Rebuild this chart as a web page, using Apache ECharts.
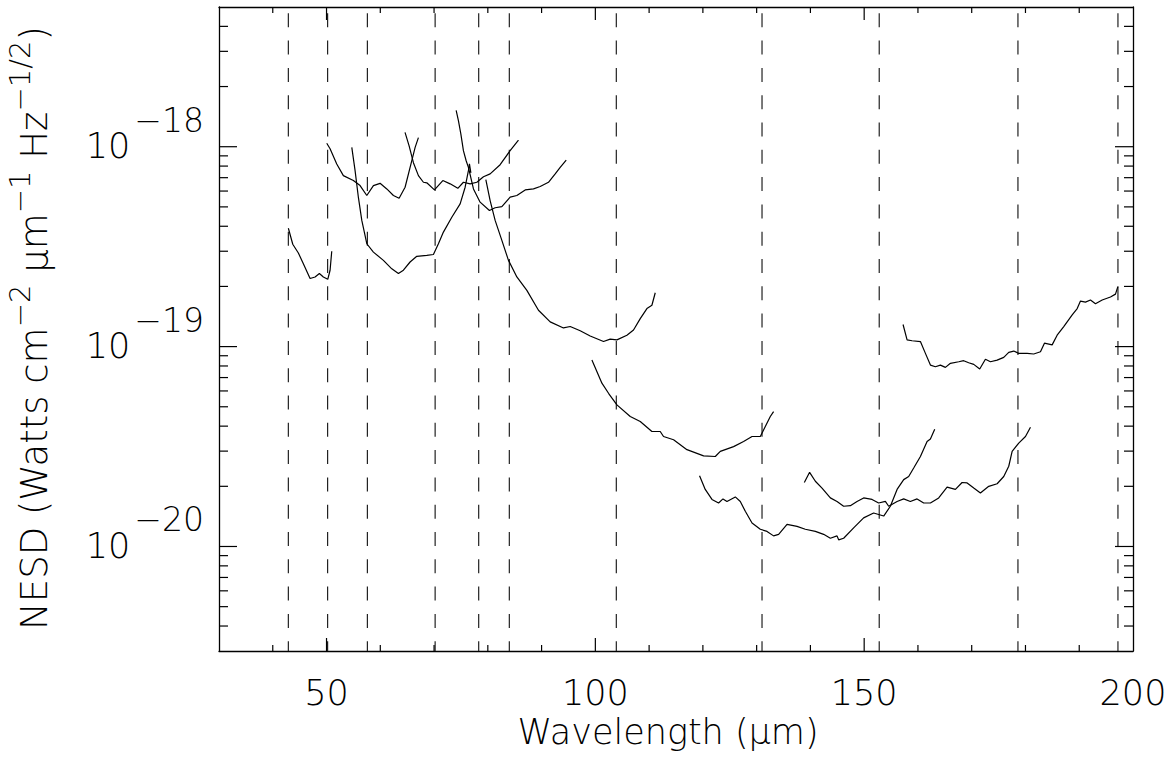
<!DOCTYPE html>
<html>
<head>
<meta charset="utf-8">
<script src="https://cdn.jsdelivr.net/npm/echarts@6/dist/echarts.min.js"></script>
<style>
html,body{margin:0;padding:0;background:#fff;}
#chart{width:1168px;height:764px;}
</style>
</head>
<body>
<div id="chart"></div>
<script>
// ---- axis ranges & ticks ----
const X_MIN = 30, X_MAX = 200;
const Y_MIN = 3e-21, Y_MAX = 5e-18;
const xLabelValues = [50, 100, 150, 200];
const xMajorTicks = [50, 100, 150];
const xMinorTicks = [40, 60, 70, 80, 90, 110, 120, 130, 140, 160, 170, 180, 190];
const yMajorTicks = [1e-20, 1e-19, 1e-18];
const yMinorTicks = [4e-21, 5e-21, 6e-21, 7e-21, 8e-21, 9e-21,
  2e-20, 3e-20, 4e-20, 5e-20, 6e-20, 7e-20, 8e-20, 9e-20,
  2e-19, 3e-19, 4e-19, 5e-19, 6e-19, 7e-19, 8e-19, 9e-19,
  2e-18, 3e-18, 4e-18];

// ---- dashed reference wavelengths ----
const dashedWavelengths = [42.9, 50.2, 57.6, 70.2, 78.3, 84.0, 103.9, 131.0, 152.8, 178.6, 197.2];

// ---- NESD curves [wavelength, NESD] ----
const band1 = [[42.90,3.91e-19],[43.72,3.25e-19],[44.76,2.94e-19],[45.69,2.60e-19],[46.94,2.19e-19],[47.87,2.23e-19],[48.67,2.32e-19],[49.41,2.23e-19],[50.23,2.17e-19],[50.66,2.41e-19],[50.97,3.00e-19]];
const band2 = [[50.04,1.04e-18],[50.66,9.77e-19],[51.90,8.20e-19],[53.13,7.17e-19],[54.99,6.77e-19],[56.24,6.39e-19],[57.49,5.70e-19],[58.72,6.39e-19],[59.96,6.56e-19],[61.21,6.15e-19],[62.44,5.70e-19],[63.50,5.52e-19],[64.61,6.27e-19],[65.86,8.51e-19],[66.48,9.92e-19],[67.09,1.11e-18]];
const band3 = [[64.60,1.18e-18],[65.36,1.01e-18],[66.16,8.32e-19],[67.09,7.17e-19],[68.02,6.64e-19],[68.65,6.60e-19],[70.07,6.08e-19],[71.63,6.77e-19],[72.99,6.52e-19],[74.42,6.19e-19],[75.46,6.64e-19],[76.71,6.52e-19],[77.96,6.64e-19],[79.19,7.08e-19],[80.43,7.31e-19],[82.29,8.13e-19],[84.15,9.55e-19],[85.70,1.08e-18]];
const band4 = [[54.70,9.92e-19],[55.31,7.59e-19],[55.92,5.59e-19],[56.56,4.28e-19],[57.49,3.27e-19],[58.72,2.97e-19],[60.58,2.70e-19],[62.14,2.45e-19],[63.37,2.32e-19],[64.30,2.41e-19],[65.54,2.65e-19],[66.79,2.83e-19],[68.65,2.86e-19],[69.88,2.89e-19],[70.81,3.27e-19],[71.74,3.74e-19],[73.30,4.44e-19],[74.85,5.18e-19],[75.78,6.27e-19],[76.39,7.59e-19],[76.58,8.20e-19],[76.85,7.40e-19]];
const band5 = [[74.11,1.52e-18],[74.53,1.35e-18],[74.98,1.16e-18],[75.46,9.55e-19],[75.97,8.51e-19],[76.39,7.88e-19],[77.33,6.15e-19],[78.57,5.28e-19],[80.30,4.80e-19],[81.36,4.95e-19],[82.61,5.02e-19],[84.15,5.59e-19],[85.40,5.70e-19],[86.95,6.08e-19],[88.49,6.15e-19],[89.74,6.32e-19],[91.28,6.64e-19],[92.53,7.31e-19],[93.46,7.88e-19],[94.58,8.58e-19]];
const band6 = [[79.63,6.85e-19],[80.43,5.38e-19],[81.36,4.28e-19],[82.61,3.40e-19],[83.84,2.70e-19],[85.40,2.23e-19],[87.26,1.91e-19],[89.42,1.52e-19],[91.60,1.33e-19],[94.07,1.24e-19],[95.32,1.26e-19],[97.18,1.20e-19],[99.04,1.13e-19],[101.52,1.06e-19],[102.76,1.09e-19],[104.01,1.08e-19],[105.87,1.14e-19],[107.10,1.21e-19],[108.35,1.38e-19],[109.59,1.55e-19],[110.52,1.61e-19],[111.14,1.86e-19]];
const band7 = [[99.36,8.56e-20],[101.22,6.56e-20],[102.45,5.84e-20],[104.01,5.11e-20],[106.49,4.47e-20],[108.35,4.22e-20],[110.52,3.76e-20],[112.07,3.76e-20],[112.68,3.55e-20],[114.55,3.42e-20],[117.04,3.05e-20],[120.13,2.84e-20],[122.31,2.82e-20],[123.24,2.99e-20],[125.71,3.16e-20],[127.57,3.35e-20],[129.14,3.55e-20],[130.68,3.55e-20],[131.61,3.98e-20],[132.54,4.47e-20],[133.15,4.73e-20]];
const band8 = [[119.38,2.26e-20],[120.44,1.93e-20],[121.69,1.72e-20],[122.92,1.65e-20],[123.74,1.73e-20],[124.48,1.68e-20],[126.03,1.77e-20],[126.96,1.68e-20],[127.89,1.50e-20],[129.14,1.31e-20],[130.68,1.22e-20],[131.93,1.19e-20],[133.15,1.13e-20],[134.09,1.15e-20],[135.65,1.29e-20],[137.51,1.26e-20],[139.05,1.22e-20],[140.92,1.19e-20],[142.46,1.15e-20],[143.71,1.10e-20],[144.95,1.13e-20],[145.25,1.08e-20],[146.18,1.10e-20],[148.04,1.24e-20],[149.90,1.39e-20],[151.76,1.47e-20],[153.63,1.42e-20],[154.87,1.59e-20],[156.12,1.93e-20],[157.35,2.16e-20],[158.28,2.24e-20],[159.21,2.47e-20],[160.46,2.82e-20],[161.70,3.35e-20],[162.32,3.45e-20],[163.12,3.86e-20]];
const band9 = [[138.87,2.09e-20],[139.85,2.35e-20],[140.92,2.12e-20],[142.16,1.96e-20],[143.71,1.75e-20],[144.95,1.68e-20],[146.18,1.59e-20],[147.43,1.60e-20],[148.67,1.68e-20],[149.90,1.75e-20],[151.46,1.72e-20],[152.69,1.65e-20],[153.94,1.68e-20],[154.56,1.59e-20],[156.12,1.68e-20],[157.35,1.73e-20],[158.59,1.68e-20],[159.84,1.73e-20],[161.07,1.65e-20],[162.32,1.65e-20],[163.86,1.75e-20],[165.42,1.98e-20],[166.97,1.93e-20],[168.21,2.09e-20],[169.15,2.08e-20],[170.38,1.96e-20],[171.62,1.85e-20],[173.17,2.00e-20],[174.73,2.06e-20],[175.96,2.24e-20],[176.89,2.52e-20],[177.52,2.99e-20],[178.75,3.29e-20],[180.00,3.55e-20],[180.93,3.95e-20]];
const band10 = [[157.23,1.29e-19],[157.98,1.08e-19],[158.91,1.07e-19],[160.46,1.06e-19],[161.39,9.25e-20],[162.32,8.08e-20],[163.25,7.93e-20],[164.18,8.08e-20],[165.11,7.87e-20],[166.04,8.25e-20],[167.59,8.40e-20],[168.51,8.50e-20],[169.44,8.30e-20],[170.38,8.15e-20],[171.49,7.72e-20],[172.55,8.64e-20],[173.48,8.40e-20],[174.73,8.56e-20],[175.96,8.83e-20],[176.89,9.36e-20],[177.82,9.50e-20],[178.75,9.25e-20],[180.31,9.25e-20],[181.54,9.18e-20],[182.79,9.42e-20],[183.53,1.04e-19],[184.96,1.02e-19],[185.89,1.14e-19],[187.12,1.26e-19],[188.69,1.44e-19],[189.62,1.55e-19],[190.23,1.69e-19],[191.16,1.67e-19],[192.09,1.71e-19],[193.02,1.64e-19],[194.27,1.71e-19],[195.81,1.77e-19],[196.74,1.83e-19],[197.17,1.99e-19]];
const bands = [band1, band2, band3, band4, band5, band6, band7, band8, band9, band10];

// ---- texts ----
const xTitle = 'Wavelength (\u03bcm)';
const yTitle = 'NESD (Watts cm{s|\u22122} \u03bcm{s|\u22121} Hz{s|\u22121/2})';

const FONT = 'DejaVu Sans';
const chart = echarts.init(document.getElementById('chart'), null, {renderer: 'svg', width: 1168, height: 764});

function tickSeries(data, len, vertical) {
  return {
    type: 'custom', silent: true, clip: false, z: 5,
    data: data.map(v => vertical ? [v, Y_MIN] : [X_MIN, v]),
    renderItem: function (params, api) {
      const style = {stroke: '#000', lineWidth: 1.2};
      if (vertical) {
        const v = api.value(0);
        const b = api.coord([v, Y_MIN]);
        const t = api.coord([v, Y_MAX]);
        return {type: 'group', children: [
          {type: 'line', shape: {x1: b[0], y1: b[1], x2: b[0], y2: b[1] - len}, style: style},
          {type: 'line', shape: {x1: t[0], y1: t[1], x2: t[0], y2: t[1] + len}, style: style}
        ]};
      } else {
        const v = api.value(1);
        const l = api.coord([X_MIN, v]);
        const r = api.coord([X_MAX, v]);
        return {type: 'group', children: [
          {type: 'line', shape: {x1: l[0], y1: l[1], x2: l[0] + len, y2: l[1]}, style: style},
          {type: 'line', shape: {x1: r[0], y1: r[1], x2: r[0] - len, y2: r[1]}, style: style}
        ]};
      }
    }
  };
}

const dashSeries = {
  type: 'custom', silent: true, clip: false, z: 2,
  data: dashedWavelengths.map(v => [v, Y_MIN]),
  renderItem: function (params, api) {
    const v = api.value(0);
    const t = api.coord([v, Y_MAX]);
    const b = api.coord([v, Y_MIN]);
    return {type: 'line', shape: {x1: t[0], y1: t[1], x2: b[0], y2: b[1]},
      style: {stroke: '#222', lineWidth: 1.2, lineDash: [14, 13.3], lineDashOffset: 20.5}};
  }
};

const lineSeries = bands.map(b => ({
  type: 'line', data: b, showSymbol: false, symbol: 'none', silent: true, z: 3,
  lineStyle: {color: '#000', width: 1.2}
}));

const axisLineStyle = {show: true, onZero: false, lineStyle: {color: '#000', width: 1.3}};
const labelFont = {fontFamily: FONT, fontWeight: 200, color: '#000'};

chart.setOption({
  animation: false,
  backgroundColor: '#fff',
  grid: {left: 219, right: 35, top: 7, bottom: 113, containLabel: false, outerBoundsMode: 'none'},
  graphic: [{
    type: 'text', x: 34, y: 328, rotation: Math.PI / 2, silent: true,
    style: {
      text: yTitle, fontSize: 37, fontFamily: FONT, fontWeight: 200, fill: '#000',
      lineHeight: 58, align: 'center', verticalAlign: 'middle',
      rich: {
        s: {fontSize: 29, fontFamily: FONT, fontWeight: 200, fill: '#000', lineHeight: 24, verticalAlign: 'top'}
      }
    }
  }],
  xAxis: [
    {type: 'value', min: X_MIN, max: X_MAX, interval: 10, position: 'bottom',
     axisLine: axisLineStyle, axisTick: {show: false}, splitLine: {show: false},
     axisLabel: Object.assign({fontSize: 35, margin: 24, showMinLabel: false,
       formatter: v => xLabelValues.includes(v) ? String(v) : ''}, labelFont),
     name: xTitle, nameLocation: 'middle', nameGap: 60,
     nameTextStyle: Object.assign({fontSize: 35, padding: [0, 16, 0, 0]}, labelFont)},
    {type: 'value', min: X_MIN, max: X_MAX, interval: 10, position: 'top',
     axisLine: axisLineStyle, axisTick: {show: false}, axisLabel: {show: false}, splitLine: {show: false}}
  ],
  yAxis: [
    {type: 'log', logBase: 10, min: Y_MIN, max: Y_MAX, position: 'left',
     axisLine: axisLineStyle, axisTick: {show: false}, splitLine: {show: false}, minorTick: {show: false},
     axisLabel: {margin: 15, padding: [0, 0, 26, 0], showMinLabel: false, showMaxLabel: false,
      formatter: function (v) {
        const e = Math.log10(v);
        const r = Math.round(e);
        if (Math.abs(e - r) > 1e-6) return '';
        return '{b|10}{e|\u2212' + Math.abs(r) + '}';
      },
      rich: {
        b: Object.assign({fontSize: 35, lineHeight: 60, verticalAlign: 'bottom'}, labelFont),
        e: Object.assign({fontSize: 33, lineHeight: 20, verticalAlign: 'top', padding: [0, 0, 0, 4]}, labelFont)
      }}},
    {type: 'log', logBase: 10, min: Y_MIN, max: Y_MAX, position: 'right',
     axisLine: axisLineStyle, axisTick: {show: false}, axisLabel: {show: false}, splitLine: {show: false}}
  ],
  series: [
    dashSeries,
    tickSeries(xMajorTicks, 13, true),
    tickSeries(xMinorTicks, 6, true),
    tickSeries(yMajorTicks, 18, false),
    tickSeries(yMinorTicks, 9, false)
  ].concat(lineSeries)
});
</script>
</body>
</html>
